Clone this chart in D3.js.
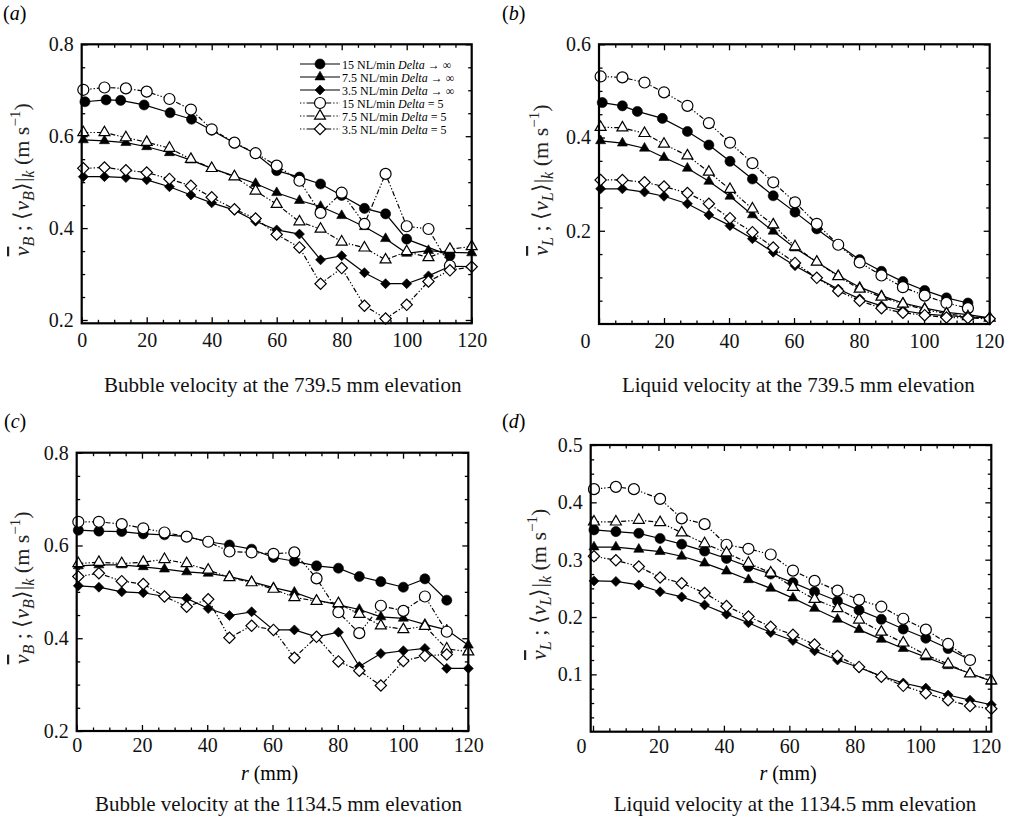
<!DOCTYPE html>
<html><head><meta charset="utf-8">
<script src="https://cdn.jsdelivr.net/npm/d3@7"></script>
<style>body{margin:0;background:#fff}svg{display:block}</style>
</head><body>
<svg id="c" width="1018" height="824"></svg>
<script>
// ---------- data ----------
const legendLabels = ["15 NL/min", "7.5 NL/min", "3.5 NL/min", "15 NL/min", "7.5 NL/min", "3.5 NL/min"];
const legendTail = [" \u2192 \u221E", " \u2192 \u221E", " \u2192 \u221E", " = 5", " = 5", " = 5"];
const panelLetters = ["a", "b", "c", "d"];
const captions = ["Bubble velocity at the 739.5 mm elevation", "Liquid velocity at the 739.5 mm elevation",
                  "Bubble velocity at the 1134.5 mm elevation", "Liquid velocity at the 1134.5 mm elevation"];
const xTicks = [0, 20, 40, 60, 80, 100, 120];
const yTicksBubble = [0.2, 0.4, 0.6, 0.8];
const yTicksLiqB = [0.2, 0.4, 0.6];
const yTicksLiqD = [0.1, 0.2, 0.3, 0.4, 0.5];

// panel (a) bubble 739.5
const rA   = [0.5, 7, 13.6, 20, 27, 33.6, 40, 47, 53.5, 60, 67, 73.5, 80, 87, 93.5, 100, 106.7, 113.3, 120];
const rA15 = [1, 7.5, 12, 19.2, 27.2, 33.8, 40, 47, 53.5, 60, 67, 73.5, 80, 87, 93.5, 100, 113.3];
const a_f15 = [0.675, 0.679, 0.678, 0.668, 0.651, 0.637, 0.613, 0.585, 0.562, 0.525, 0.511, 0.496, 0.471, 0.443, 0.431, 0.376, 0.340];
const a_f75 = [0.592, 0.590, 0.586, 0.577, 0.564, 0.548, 0.530, 0.513, 0.497, 0.477, 0.460, 0.447, 0.427, 0.403, 0.377, 0.345, 0.351, 0.347, 0.346];
const a_f35 = [0.512, 0.512, 0.510, 0.505, 0.490, 0.472, 0.455, 0.439, 0.415, 0.396, 0.387, 0.331, 0.340, 0.303, 0.279, 0.279, 0.296, 0.317, 0.316];
const a_o15 = [0.701, 0.706, 0.704, 0.697, 0.681, 0.658, 0.615, 0.586, 0.563, 0.536, 0.503, 0.433, 0.477, 0.409, 0.518, 0.404, 0.398, 0.318];
const a_o75 = [0.608, 0.608, 0.597, 0.587, 0.574, 0.550, 0.530, 0.512, 0.481, 0.452, 0.414, 0.398, 0.370, 0.357, 0.331, 0.349, 0.336, 0.354, 0.360];
const a_o35 = [0.530, 0.532, 0.526, 0.521, 0.507, 0.492, 0.467, 0.441, 0.421, 0.386, 0.358, 0.279, 0.313, 0.231, 0.203, 0.233, 0.284, 0.308, 0.316];

// panel (b) liquid 739.5
const rB   = [0.5, 7.2, 14, 20, 27.2, 33.8, 40.3, 47.2, 53.6, 60.3, 67, 73.6, 80.2, 86.9, 93.5, 100.2, 106.9, 113.5, 120.2];
const rB15 = [1, 7.2, 11.8, 19.5, 27.2, 33.8, 40.3, 47.2, 53.6, 60.3, 67, 73.6, 80.2, 86.9, 93.5, 100.2, 106.9, 113.5];
const b_f15 = [0.475, 0.468, 0.456, 0.441, 0.413, 0.384, 0.349, 0.311, 0.275, 0.240, 0.204, 0.170, 0.138, 0.113, 0.091, 0.072, 0.056, 0.045];
const b_f75 = [0.393, 0.388, 0.377, 0.357, 0.334, 0.306, 0.274, 0.234, 0.199, 0.163, 0.133, 0.104, 0.079, 0.061, 0.045, 0.034, 0.025, 0.020, 0.013];
const b_f35 = [0.290, 0.290, 0.283, 0.274, 0.258, 0.234, 0.211, 0.183, 0.154, 0.125, 0.099, 0.075, 0.054, 0.039, 0.029, 0.021, 0.018, 0.015, 0.013];
const b_o15 = [0.531, 0.529, 0.518, 0.497, 0.468, 0.431, 0.389, 0.345, 0.304, 0.261, 0.215, 0.170, 0.132, 0.104, 0.079, 0.061, 0.045, 0.034];
const b_o75 = [0.422, 0.421, 0.409, 0.386, 0.361, 0.326, 0.289, 0.247, 0.213, 0.166, 0.133, 0.102, 0.075, 0.058, 0.043, 0.031, 0.022, 0.016, 0.013];
const b_o35 = [0.309, 0.309, 0.304, 0.295, 0.281, 0.258, 0.227, 0.197, 0.164, 0.131, 0.099, 0.071, 0.050, 0.034, 0.024, 0.019, 0.014, 0.013, 0.011];

// panel (c) bubble 1134.5
const rC = [0.5, 6.8, 13.8, 20.4, 26.9, 33.7, 40.3, 46.8, 53.6, 60.3, 66.7, 73.5, 80.2, 86.6, 93.2, 100.1, 106.7, 113.4, 120];
const c_f15 = [0.633, 0.631, 0.630, 0.625, 0.623, 0.619, 0.608, 0.601, 0.592, 0.574, 0.566, 0.556, 0.551, 0.533, 0.522, 0.510, 0.528, 0.482];
const c_f75 = [0.556, 0.558, 0.558, 0.554, 0.549, 0.543, 0.540, 0.533, 0.522, 0.509, 0.499, 0.482, 0.472, 0.462, 0.446, 0.443, 0.430, 0.418, 0.385];
const c_f35 = [0.513, 0.510, 0.500, 0.498, 0.490, 0.486, 0.464, 0.449, 0.457, 0.418, 0.418, 0.403, 0.413, 0.339, 0.367, 0.373, 0.378, 0.335, 0.335];
const c_o15 = [0.651, 0.651, 0.646, 0.637, 0.628, 0.619, 0.608, 0.587, 0.585, 0.582, 0.585, 0.529, 0.456, 0.411, 0.470, 0.459, 0.490, 0.414];
const c_o75 = [0.561, 0.564, 0.561, 0.564, 0.570, 0.561, 0.547, 0.531, 0.520, 0.506, 0.488, 0.480, 0.475, 0.452, 0.427, 0.419, 0.426, 0.377, 0.371];
const c_o35 = [0.533, 0.540, 0.523, 0.517, 0.490, 0.468, 0.484, 0.401, 0.427, 0.418, 0.358, 0.403, 0.350, 0.330, 0.298, 0.351, 0.362, 0.365];

// panel (d) liquid 1134.5
const rD   = [0.3, 7, 14, 20.5, 27.1, 34.1, 40.8, 47.5, 54.3, 61.1, 67.7, 74.7, 81.3, 88.1, 94.8, 101.7, 108.5, 115.2, 121.7];
const rDo15 = [0.3, 7, 12.5, 20.5, 27.1, 34.1, 40.8, 47.5, 54.3, 61.1, 67.7, 74.7, 81.3, 88.1, 94.8, 101.7, 108.5, 115.2];
const d_f15 = [0.352, 0.349, 0.346, 0.337, 0.327, 0.315, 0.302, 0.288, 0.275, 0.260, 0.244, 0.228, 0.212, 0.196, 0.179, 0.163, 0.145, 0.125];
const d_f75 = [0.322, 0.322, 0.318, 0.314, 0.306, 0.294, 0.280, 0.265, 0.250, 0.233, 0.215, 0.196, 0.178, 0.161, 0.145, 0.130, 0.115, 0.102, 0.088];
const d_f35 = [0.263, 0.262, 0.256, 0.244, 0.235, 0.221, 0.205, 0.190, 0.173, 0.159, 0.141, 0.125, 0.112, 0.097, 0.085, 0.076, 0.064, 0.055, 0.047];
const d_o15 = [0.423, 0.427, 0.423, 0.406, 0.372, 0.362, 0.326, 0.319, 0.309, 0.281, 0.263, 0.246, 0.230, 0.218, 0.197, 0.178, 0.153, 0.125];
const d_o75 = [0.366, 0.366, 0.369, 0.365, 0.347, 0.328, 0.312, 0.294, 0.277, 0.252, 0.231, 0.215, 0.195, 0.174, 0.155, 0.134, 0.118, 0.101, 0.089];
const d_o35 = [0.306, 0.299, 0.288, 0.269, 0.259, 0.242, 0.219, 0.201, 0.183, 0.169, 0.152, 0.132, 0.113, 0.096, 0.080, 0.067, 0.055, 0.045, 0.040];

// ---------- drawing ----------
const FONT = "'Liberation Serif','Times New Roman',serif";
const svg = d3.select('#c').attr('font-family', FONT);

const styles = [
  {shape: 'circle', filled: true,  size: 80, dash: null},
  {shape: 'triangle', filled: true, size: 44, dash: null},
  {shape: 'diamond', filled: true, size: 50, dash: null},
  {shape: 'circle', filled: false, size: 95, dash: '5,2,1.3,2,1.3,2'},
  {shape: 'triangle', filled: false, size: 52, dash: '5,2,1.3,2,1.3,2'},
  {shape: 'diamond', filled: false, size: 64, dash: '5,2,1.3,2,1.3,2'}
];
function symPath(st) {
  const t = st.shape === 'circle' ? d3.symbolCircle : st.shape === 'triangle' ? d3.symbolTriangle : d3.symbolSquare;
  return d3.symbol().type(t).size(st.size)();
}
function marker(g, st, cx, cy) {
  return g.append('path').attr('d', symPath(st))
    .attr('transform', `translate(${cx},${cy})` + (st.shape === 'diamond' ? ' rotate(45)' : ''))
    .attr('fill', st.filled ? '#000' : '#fff').attr('stroke', '#000').attr('stroke-width', st.filled ? 0.6 : 1.2);
}

const panels = [
  {l: 81.7, r: 471.7, t: 44.3, b: 323.3, xd: [0, 120], yd: [0.1928, 0.8], yt: yTicksBubble, ystep: 0.05, sub: 'B',
   xtOff: 24, zeroDx: 0, ylx: 29, series: [[rA15, a_f15], [rA, a_f75], [rA, a_f35], [rA, a_o15], [rA, a_o75], [rA, a_o35]],
   lx: 3, ly: 20, cap: 391.5, rlab: false, legend: true},
  {l: 599, r: 989.7, t: 44.3, b: 324, xd: [0, 120.2], yd: [0, 0.6], yt: yTicksLiqB, ystep: 0.05, sub: 'L',
   xtOff: 24, zeroDx: -14, ylx: 548, series: [[rB15, b_f15], [rB, b_f75], [rB, b_f35], [rB, b_o15], [rB, b_o75], [rB, b_o35]],
   lx: 502, ly: 20, cap: 391.5, rlab: false, legend: false},
  {l: 76.7, r: 468.3, t: 452.7, b: 731, xd: [0, 120], yd: [0.2, 0.8], yt: yTicksBubble, ystep: 0.05, sub: 'B',
   xtOff: 21, zeroDx: 0, ylx: 29, series: [[rC, c_f15], [rC, c_f75], [rC, c_f35], [rC, c_o15], [rC, c_o75], [rC, c_o35]],
   lx: 4, ly: 428, cap: 811, rlab: true, legend: false},
  {l: 590.7, r: 991.3, t: 445, b: 731.7, xd: [-0.7, 121.7], yd: [0, 0.5], yt: yTicksLiqD, ystep: 0.025, sub: 'L',
   xtOff: 21, zeroDx: -12, ylx: 546, series: [[rD, d_f15], [rD, d_f75], [rD, d_f35], [rDo15, d_o15], [rD, d_o75], [rD, d_o35]],
   lx: 502, ly: 428, cap: 811, rlab: true, legend: false}
];

panels.forEach((p, pi) => {
  const x = d3.scaleLinear().domain(p.xd).range([p.l, p.r]);
  const y = d3.scaleLinear().domain(p.yd).range([p.b, p.t]);
  const g = svg.append('g');
  const xMinor = d3.range(5, 120, 5).filter(v => v % 20 !== 0);
  const yMinor = d3.range(0, p.yd[1] + 1e-9, p.ystep).filter(v => v > p.yd[0] + 1e-6 && !p.yt.some(t => Math.abs(t - v) < 1e-6));
  const clean = sel => { sel.select('.domain').remove(); sel.attr('font-family', null).attr('font-size', null); sel.selectAll('line').attr('stroke-width', 1.3); };

  // minor ticks, all four sides
  g.append('g').attr('transform', `translate(0,${p.b})`).call(d3.axisBottom(x).tickValues(xMinor).tickSize(-3.5).tickFormat('')).call(clean);
  g.append('g').attr('transform', `translate(0,${p.t})`).call(d3.axisTop(x).tickValues(xMinor).tickSize(-3.5).tickFormat('')).call(clean);
  g.append('g').attr('transform', `translate(${p.l},0)`).call(d3.axisLeft(y).tickValues(yMinor).tickSize(-3.5).tickFormat('')).call(clean);
  g.append('g').attr('transform', `translate(${p.r},0)`).call(d3.axisRight(y).tickValues(yMinor).tickSize(-3.5).tickFormat('')).call(clean);
  // major ticks
  const xb = g.append('g').attr('transform', `translate(0,${p.b})`)
    .call(d3.axisBottom(x).tickValues(xTicks).tickSize(-6).tickPadding(p.xtOff - 14.2).tickFormat(d3.format('d'))).call(clean);
  xb.selectAll('text').attr('font-size', 20).attr('fill', '#111').attr('dx', d => d === 0 ? p.zeroDx : 0);
  g.append('g').attr('transform', `translate(0,${p.t})`).call(d3.axisTop(x).tickValues(xTicks.slice(1, -1)).tickSize(-6).tickFormat('')).call(clean);
  const yl = g.append('g').attr('transform', `translate(${p.l},0)`)
    .call(d3.axisLeft(y).tickValues(p.yt).tickSize(-6).tickPadding(8).tickFormat(d3.format('.1f'))).call(clean);
  yl.selectAll('text').attr('font-size', 20).attr('fill', '#111');
  g.append('g').attr('transform', `translate(${p.r},0)`).call(d3.axisRight(y).tickValues(p.yt).tickSize(-6).tickFormat('')).call(clean);

  // series
  const line = d3.line().x(d => x(d[0])).y(d => y(d[1]));
  p.series.forEach((s, si) => {
    const st = styles[si];
    const pts = s[1].map((v, i) => [s[0][i], v]);
    g.append('path').attr('d', line(pts)).attr('fill', 'none').attr('stroke', '#000')
      .attr('stroke-width', 1.2).attr('stroke-dasharray', st.dash);
  });
  p.series.forEach((s, si) => {
    const st = styles[si];
    s[1].forEach((v, i) => marker(g, st, x(s[0][i]), y(v)));
  });

  // frame
  g.append('rect').attr('x', p.l).attr('y', p.t).attr('width', p.r - p.l).attr('height', p.b - p.t)
    .attr('fill', 'none').attr('stroke', '#000').attr('stroke-width', 2.2);

  // y label
  const cy = (p.t + p.b) / 2 - 4;
  const tx = g.append('text').attr('transform', `translate(${p.ylx},${cy}) rotate(-90)`)
    .attr('text-anchor', 'middle').attr('font-size', 22).attr('fill', '#222');
  tx.append('tspan').attr('font-style', 'italic').style('text-decoration', 'overline').text('v');
  tx.append('tspan').attr('font-style', 'italic').attr('font-size', 16).attr('dy', 5).text(p.sub);
  tx.append('tspan').attr('dy', -5).text(' ; \u27E8');
  tx.append('tspan').attr('font-style', 'italic').text('v');
  tx.append('tspan').attr('font-style', 'italic').attr('font-size', 16).attr('dy', 5).text(p.sub);
  tx.append('tspan').attr('dy', -5).text('\u27E9|');
  tx.append('tspan').attr('font-style', 'italic').attr('font-size', 16).attr('dy', 5).text('k');
  tx.append('tspan').attr('dy', -5).text(' (m s');
  tx.append('tspan').attr('font-size', 15).attr('dy', -9).text('\u22121');
  tx.append('tspan').attr('dy', 9).text(')');

  // panel letter
  const pl = svg.append('text').attr('x', p.lx).attr('y', p.ly).attr('font-size', 20);
  pl.append('tspan').text('(');
  pl.append('tspan').attr('font-style', 'italic').text(panelLetters[pi]);
  pl.append('tspan').text(')');

  // r (mm)
  if (p.rlab) {
    const rt = svg.append('text').attr('x', (p.l + p.r) / 2 - 3).attr('y', 780).attr('text-anchor', 'middle').attr('font-size', 20);
    rt.append('tspan').attr('font-style', 'italic').text('r');
    rt.append('tspan').text(' (mm)');
  }
  // caption
  svg.append('text').attr('x', (p.l + p.r) / 2 + (pi % 2 ? 4 : 6)).attr('y', p.cap).attr('text-anchor', 'middle')
    .attr('font-size', 21).attr('fill', '#111').text(captions[pi]);

  // legend
  if (p.legend) {
    const lg = g.append('g');
    const rows = [64, 77, 90, 103, 116, 129];
    styles.forEach((st, i) => {
      lg.append('line').attr('x1', 300).attr('x2', 340).attr('y1', rows[i]).attr('y2', rows[i])
        .attr('stroke', '#000').attr('stroke-width', 1.2).attr('stroke-dasharray', st.dash ? '1.3,2,1.3,2,8,2' : null);
      marker(lg, st, 320, rows[i]);
      const t = lg.append('text').attr('x', 342).attr('y', rows[i] + 4.5).attr('font-size', 12);
      t.append('tspan').text(legendLabels[i] + ' ');
      t.append('tspan').attr('font-style', 'italic').text('Delta');
      t.append('tspan').text(legendTail[i]);
    });
  }
});
</script>
</body></html>
